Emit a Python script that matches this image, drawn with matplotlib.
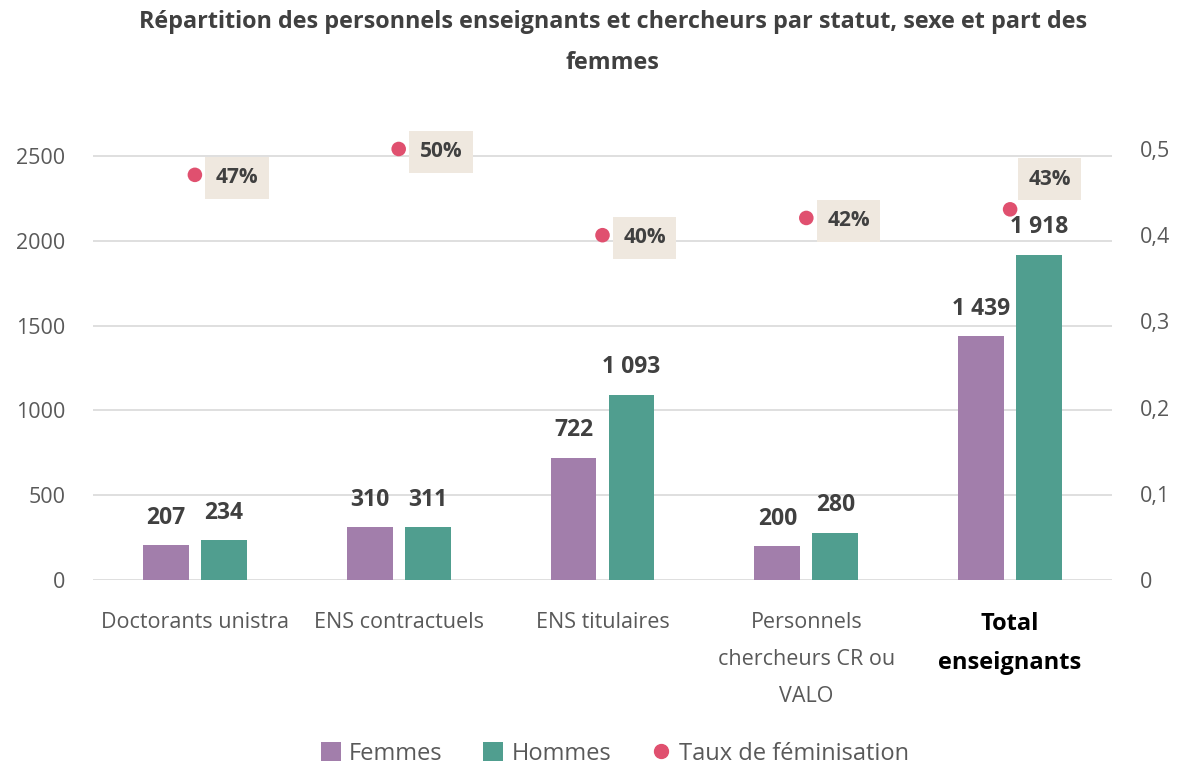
import matplotlib
matplotlib.use("Agg")
import matplotlib.pyplot as plt
import numpy as np
from matplotlib.lines import Line2D
from matplotlib.patches import Patch

plt.rcParams["font.family"] = ["Open Sans", "DejaVu Sans"]

TXT = "#404040"
TICK = "#595959"
C_F = "#A27EAB"
C_H = "#509E8F"
C_DOT = "#E0506F"
C_BOX = "#EFE8DF"
GRID = "#D9D9D9"

categories = ["Doctorants unistra", "ENS contractuels", "ENS titulaires",
              "Personnels\nchercheurs CR ou\nVALO", "Total\nenseignants"]
femmes = [207, 310, 722, 200, 1439]
hommes = [234, 311, 1093, 280, 1918]
taux = [0.47, 0.50, 0.40, 0.42, 0.43]
left_ticks = [0, 500, 1000, 1500, 2000, 2500]
right_ticks = [0, 0.1, 0.2, 0.3, 0.4, 0.5]


def fmt(v):
    return f"{v:,}".replace(",", " ")


fig = plt.figure(figsize=(11.83, 7.66), dpi=100)
fig.patch.set_facecolor("white")
ax = fig.add_axes([0.0786, 0.2428, 0.8614, 0.5627])
ax2 = ax.twinx()

x = np.arange(len(categories))
bw = 0.225
off = 0.142
ax.bar(x - off, femmes, bw, color=C_F, zorder=3)
ax.bar(x + off, hommes, bw, color=C_H, zorder=3)

for xi, v in zip(x, femmes):
    ax.annotate(fmt(v), (xi - off, v), xytext=(0, 11), textcoords="offset points",
                ha="center", va="bottom", fontsize=16.5, fontweight="bold", color=TXT)
for xi, v in zip(x, hommes):
    ax.annotate(fmt(v), (xi + off, v), xytext=(0, 11), textcoords="offset points",
                ha="center", va="bottom", fontsize=16.5, fontweight="bold", color=TXT)

ax.set_xlim(-0.5, len(categories) - 0.5)
ax.set_ylim(0, 2500 * 431 / 424)
ax.set_yticks(left_ticks)
ax.set_yticklabels([str(t) for t in left_ticks])
ax.grid(axis="y", color=GRID, lw=1.2, zorder=0)
ax.set_axisbelow(True)
for s in ax.spines.values():
    s.set_visible(False)
for s in ax2.spines.values():
    s.set_visible(False)
ax.tick_params(axis="y", length=0, labelsize=15.5, labelcolor=TICK, pad=20)
ax.tick_params(axis="x", length=0, labelsize=15.5, labelcolor=TICK, pad=23)
ax.set_xticks(x)
ax.set_xticklabels(categories, linespacing=2.0, va="top")
lbl = ax.get_xticklabels()[-1]
lbl.set_fontweight("bold")
lbl.set_color("black")
lbl.set_fontsize(17)
lbl.set_linespacing(1.85)

ax2.scatter(x, taux, s=110, color=C_DOT, zorder=4, edgecolor="none", clip_on=False)
ax2.set_ylim(0, 0.5)
ax2.set_yticks(right_ticks)
ax2.set_yticklabels([("0" if t == 0 else f"{t:.1f}".replace(".", ",")) for t in right_ticks])
ax2.tick_params(axis="y", length=0, labelsize=15.5, labelcolor=TICK, pad=20)

for i, (xi, t) in enumerate(zip(x, taux)):
    if i == len(x) - 1:
        xy_off, va = (13, 14), "bottom"
    else:
        xy_off, va = (15, -2), "center"
    ax2.annotate(f"{round(t * 100)}%", (xi, t), xytext=xy_off, textcoords="offset points",
                 ha="left", va=va, fontsize=15, fontweight="bold", color=TXT,
                 bbox=dict(boxstyle="square,pad=0.5", facecolor=C_BOX, edgecolor="none"))

fig.text(0.518, 0.971, "Répartition des personnels enseignants et chercheurs par statut, sexe et part des",
         ha="center", va="center", fontsize=16.8, fontweight="bold", color=TXT)
fig.text(0.518, 0.918, "femmes", ha="center", va="center", fontsize=16.8, fontweight="bold", color=TXT)

handles = [Patch(facecolor=C_F, label="Femmes"),
           Patch(facecolor=C_H, label="Hommes"),
           Line2D([], [], marker="o", ls="none", color=C_DOT, markersize=10, label="Taux de féminisation")]
fig.legend(handles=handles, loc="center", bbox_to_anchor=(0.52, 0.016), ncol=3, frameon=False,
           fontsize=17, labelcolor=TICK, handlelength=0.85, handleheight=0.85, handletextpad=0.35,
           columnspacing=1.7)

fig.savefig("out.png", dpi=100, facecolor="white")
